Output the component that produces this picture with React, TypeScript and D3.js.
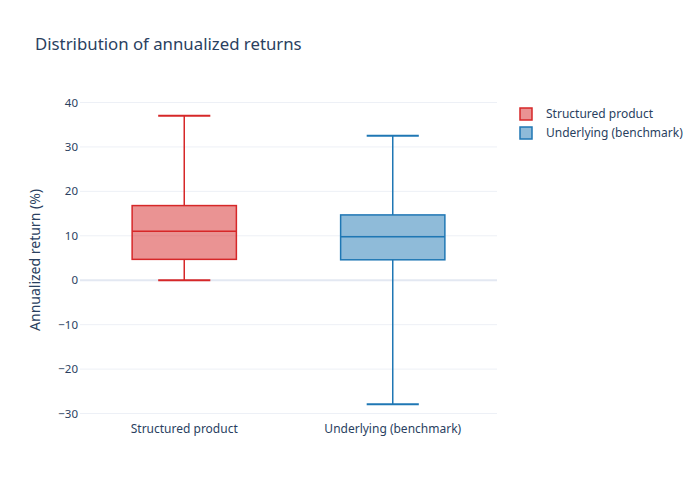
import React from 'react';
import * as d3 from 'd3';

const categories = ['Structured product', 'Underlying (benchmark)'];
const lowerWhisker = [0, -27.9];
const q1 = [4.7, 4.6];
const median = [11.0, 9.8];
const q3 = [16.8, 14.7];
const upperWhisker = [37.0, 32.5];
const lineColors = ['#d62728', '#1f77b4'];
const fillColors = ['rgba(214,39,40,0.5)', 'rgba(31,119,180,0.5)'];
const yTicks = [-30, -20, -10, 0, 10, 20, 30, 40];

const W = 700;
const H = 500;
const margin = { left: 80, right: 203, top: 100, bottom: 80 };
const font = '"Source Sans Pro", "Noto Sans", "Open Sans", sans-serif';
const textColor = '#2a3f5f';

const App: React.FC = () => {
  const x = d3.scaleBand<string>()
    .domain(categories)
    .range([margin.left, W - margin.right])
    .paddingInner(0.5)
    .paddingOuter(0.25);

  const y = d3.scaleLinear()
    .domain([-31.45, 40.56])
    .range([H - margin.bottom, margin.top]);

  const bw = x.bandwidth();

  return (
    <svg width={W} height={H} style={{ position: 'absolute', left: 0, top: 0, background: '#fff' }} fontFamily={font}>
      <text x={35} y={50} fontSize={16.8} fill={textColor}>Distribution of annualized returns</text>

      {/* grid */}
      {yTicks.map(t => (
        <line key={t} x1={margin.left} x2={W - margin.right} y1={y(t)} y2={y(t)}
          stroke={t === 0 ? '#e3e8f2' : '#edf0f6'} strokeWidth={t === 0 ? 2 : 1} />
      ))}
      {yTicks.map(t => (
        <text key={'l' + t} x={margin.left - 2} y={y(t)} dy="0.35em" textAnchor="end" fontSize={11.5} fill={textColor}>
          {t < 0 ? '\u2212' + Math.abs(t) : t}
        </text>
      ))}
      <text transform={`translate(40,${(margin.top + H - margin.bottom) / 2}) rotate(-90)`} textAnchor="middle"
        fontSize={14} fill={textColor}>Annualized return (%)</text>

      {categories.map((c, i) => {
        const x0 = x(c) || 0;
        const cx = x0 + bw / 2;
        const cap = bw / 4;
        return (
          <g key={c}>
            <line x1={cx} x2={cx} y1={y(upperWhisker[i])} y2={y(q3[i])} stroke={lineColors[i]} strokeWidth={1.5} />
            <line x1={cx} x2={cx} y1={y(q1[i])} y2={y(lowerWhisker[i])} stroke={lineColors[i]} strokeWidth={1.5} />
            <line x1={cx - cap} x2={cx + cap} y1={y(upperWhisker[i])} y2={y(upperWhisker[i])} stroke={lineColors[i]} strokeWidth={2} />
            <line x1={cx - cap} x2={cx + cap} y1={y(lowerWhisker[i])} y2={y(lowerWhisker[i])} stroke={lineColors[i]} strokeWidth={2} />
            <rect x={x0} y={y(q3[i])} width={bw} height={y(q1[i]) - y(q3[i])}
              fill={fillColors[i]} stroke={lineColors[i]} strokeWidth={1.5} />
            <line x1={x0} x2={x0 + bw} y1={y(median[i])} y2={y(median[i])} stroke={lineColors[i]} strokeWidth={1.5} />
            <text x={cx} y={433} textAnchor="middle" fontSize={12} fill={textColor}>{c}</text>
          </g>
        );
      })}

      {/* legend */}
      {categories.map((c, i) => (
        <g key={'leg' + c} transform={`translate(520,${114 + i * 19})`}>
          <rect x={0} y={-6} width={12} height={12} fill={fillColors[i]} stroke={lineColors[i]} strokeWidth={1.5} />
          <text x={26} y={0} dy="0.35em" fontSize={12} fill={textColor}>{c}</text>
        </g>
      ))}
    </svg>
  );
};

export default App;
